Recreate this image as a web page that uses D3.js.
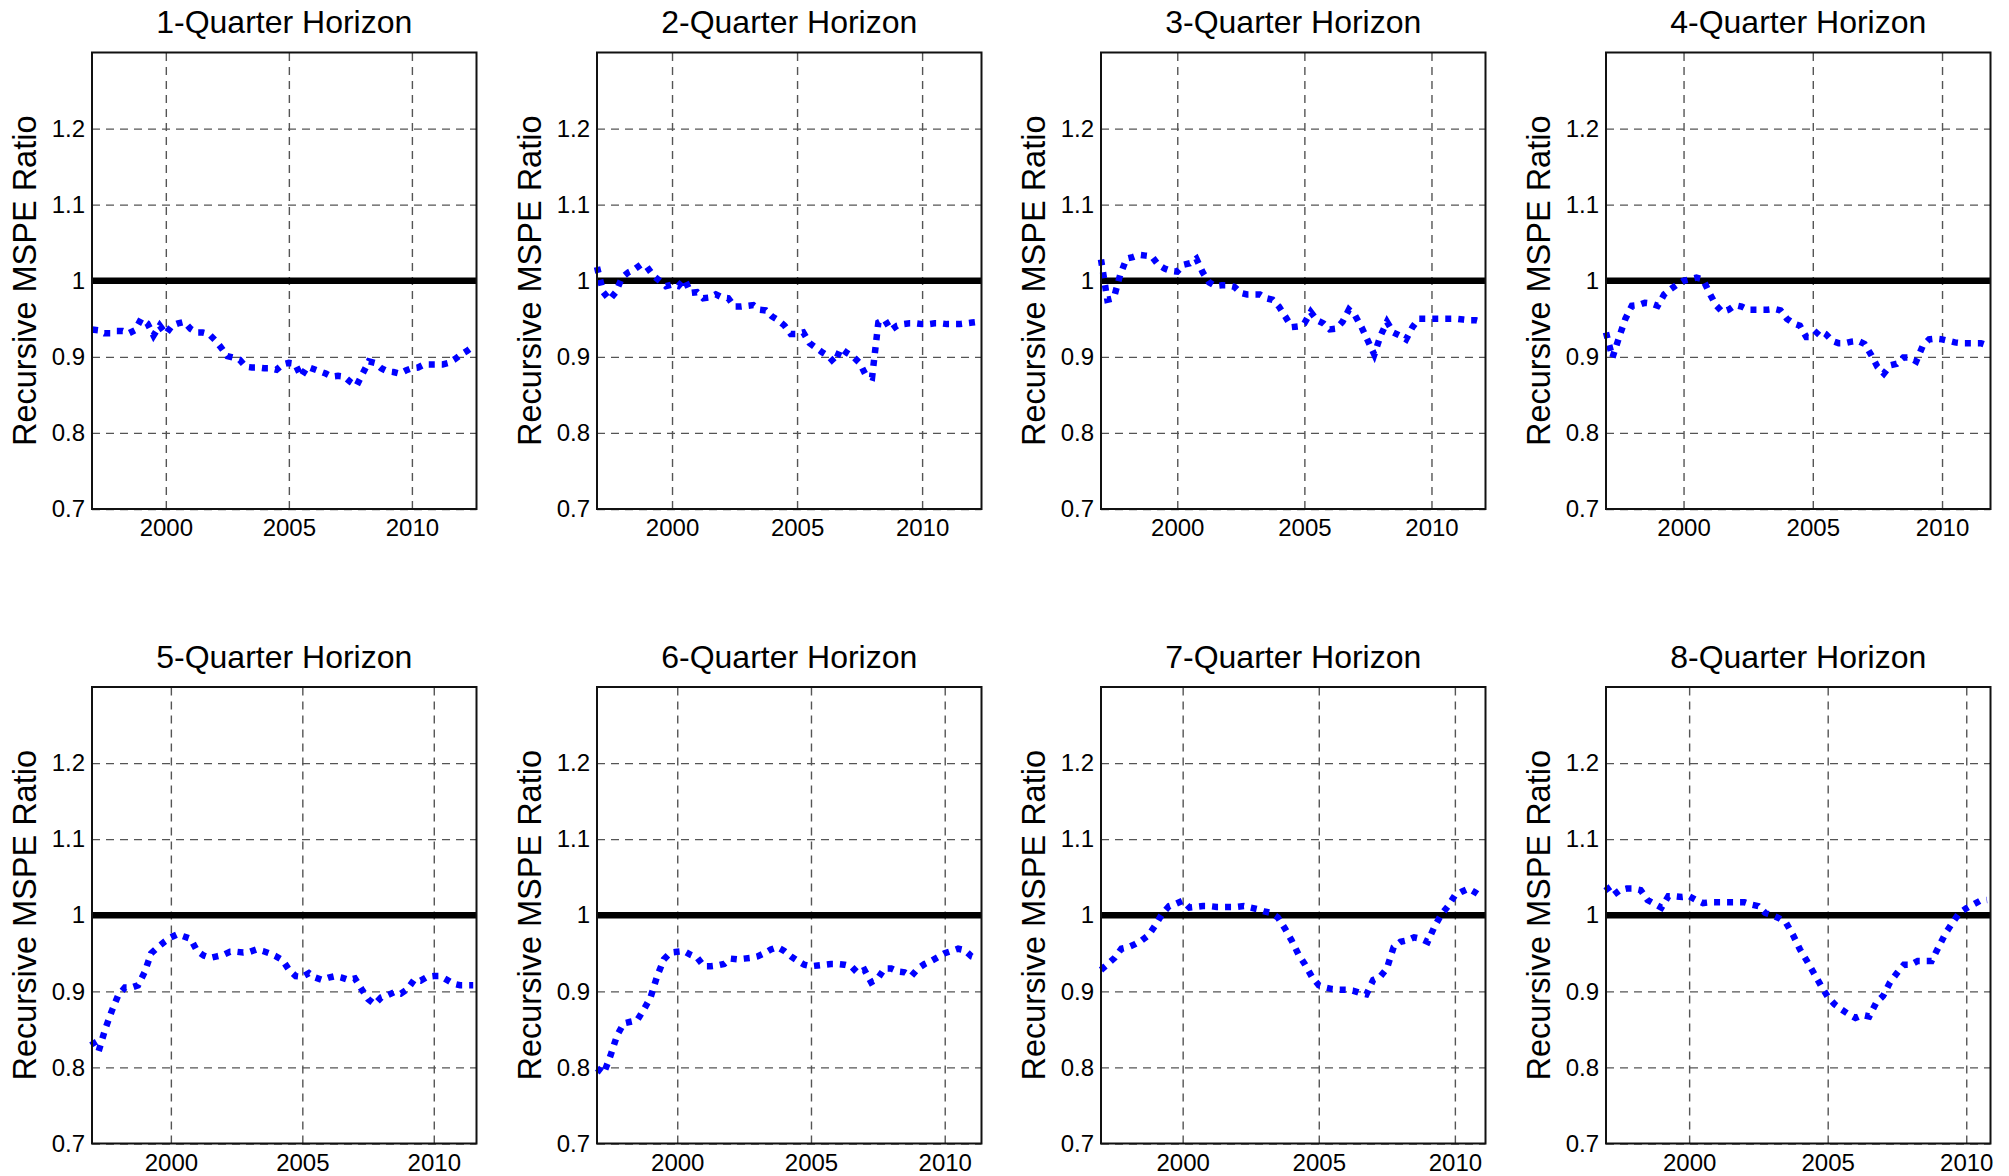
<!DOCTYPE html>
<html>
<head>
<meta charset="utf-8">
<script src="https://cdn.jsdelivr.net/npm/d3@7"></script>
<style>
  body { margin: 0; background: #fff; }
  svg { display: block; font-family: "Liberation Sans", Arial, sans-serif; }
</style>
</head>
<body>
<div id="chart"></div>
<script>
/* Recursive MSPE ratio by forecast horizon, quarterly from 1997Q1 */
const titles = ["1-Quarter Horizon", "2-Quarter Horizon", "3-Quarter Horizon", "4-Quarter Horizon",
                "5-Quarter Horizon", "6-Quarter Horizon", "7-Quarter Horizon", "8-Quarter Horizon"];
const startYear = 1997;
const yLabel = "Recursive MSPE Ratio";
const yTicks = [0.7, 0.8, 0.9, 1.0, 1.1, 1.2];
const xTicks = [2000, 2005, 2010];
const benchmark = 1;

const h1 = [0.936,0.935,0.931,0.931, 0.934,0.934,0.931,0.935, 0.950,0.944,0.928,0.941, 0.930,0.941,0.944,0.946,
            0.937,0.932,0.932,0.930, 0.922,0.912,0.901,0.899, 0.896,0.887,0.886,0.886, 0.885,0.885,0.883,0.890,
            0.892,0.891,0.874,0.887, 0.884,0.881,0.878,0.874, 0.875,0.874,0.867,0.862, 0.878,0.894,0.892,0.885,
            0.881,0.880,0.878,0.882, 0.885,0.886,0.890,0.890, 0.890,0.890,0.892,0.897, 0.903,0.908,0.914];
const h2 = [1.018,0.985,0.975,0.985, 1.004,1.011,1.015,1.021, 1.018,1.007,1.000,0.993, 0.995,0.993,1.002,0.984,
            0.985,0.977,0.978,0.982, 0.978,0.977,0.966,0.966, 0.967,0.968,0.962,0.961, 0.953,0.948,0.941,0.930,
            0.930,0.932,0.918,0.912, 0.906,0.901,0.892,0.911, 0.905,0.900,0.892,0.876, 0.873,0.945,0.949,0.935,
            0.941,0.943,0.944,0.944, 0.943,0.943,0.944,0.944, 0.943,0.943,0.943,0.944, 0.945,0.946];
const h3 = [1.028,0.975,0.977,1.007, 1.029,1.031,1.034,1.033, 1.032,1.021,1.016,1.013, 1.012,1.021,1.023,1.029,
            1.011,0.998,0.993,0.994, 0.994,0.992,0.984,0.982, 0.982,0.982,0.977,0.975, 0.966,0.953,0.939,0.940,
            0.944,0.959,0.948,0.944, 0.936,0.937,0.946,0.962, 0.954,0.939,0.921,0.903, 0.928,0.946,0.932,0.928,
            0.923,0.939,0.950,0.950, 0.950,0.950,0.950,0.950, 0.950,0.949,0.948,0.948, 0.946];
const h4 = [0.932,0.899,0.925,0.950, 0.967,0.968,0.971,0.970, 0.967,0.982,0.989,0.995, 1.000,1.002,1.004,1.002,
            0.984,0.968,0.959,0.962, 0.968,0.966,0.962,0.962, 0.962,0.962,0.963,0.961, 0.950,0.944,0.941,0.926,
            0.926,0.935,0.930,0.921, 0.918,0.918,0.920,0.921, 0.917,0.903,0.887,0.878, 0.889,0.891,0.899,0.899,
            0.894,0.914,0.923,0.924, 0.923,0.921,0.919,0.918, 0.918,0.918,0.918,0.915];
const h5 = [0.835,0.821,0.850,0.874, 0.895,0.905,0.905,0.908, 0.925,0.950,0.958,0.965, 0.971,0.975,0.972,0.969,
            0.953,0.947,0.944,0.946, 0.948,0.952,0.952,0.951, 0.952,0.955,0.953,0.950, 0.946,0.941,0.928,0.920,
            0.919,0.924,0.918,0.915, 0.918,0.920,0.918,0.915, 0.917,0.903,0.890,0.883, 0.892,0.895,0.899,0.897,
            0.903,0.915,0.914,0.919, 0.920,0.920,0.915,0.910, 0.908,0.908,0.908];
const h6 = [0.799,0.792,0.815,0.842, 0.858,0.860,0.862,0.876, 0.892,0.920,0.942,0.951, 0.952,0.953,0.948,0.944,
            0.933,0.933,0.934,0.936, 0.943,0.942,0.943,0.944, 0.946,0.950,0.955,0.958, 0.953,0.946,0.940,0.935,
            0.933,0.934,0.935,0.936, 0.936,0.935,0.933,0.924, 0.928,0.912,0.917,0.930, 0.930,0.926,0.925,0.920,
            0.930,0.936,0.940,0.945, 0.950,0.953,0.956,0.954, 0.946,0.943];
const h7 = [0.928,0.936,0.944,0.956, 0.958,0.962,0.967,0.974, 0.987,1.002,1.012,1.015, 1.019,1.010,1.011,1.012,
            1.012,1.011,1.011,1.011, 1.011,1.012,1.010,1.008, 1.005,1.003,0.997,0.983, 0.967,0.949,0.935,0.919,
            0.908,0.905,0.903,0.902, 0.902,0.901,0.898,0.896, 0.915,0.919,0.930,0.958, 0.965,0.967,0.971,0.969,
            0.965,0.985,1.001,1.012, 1.026,1.031,1.035,1.030, 1.024];
const h8 = [1.038,1.026,1.033,1.035, 1.035,1.033,1.020,1.015, 1.010,1.025,1.025,1.024, 1.025,1.020,1.016,1.017,
            1.017,1.017,1.017,1.017, 1.017,1.014,1.012,1.003, 1.000,0.996,0.990,0.974, 0.955,0.940,0.924,0.908,
            0.893,0.883,0.876,0.870, 0.865,0.869,0.867,0.885, 0.894,0.912,0.924,0.935, 0.935,0.940,0.940,0.940,
            0.958,0.976,0.990,1.003, 1.009,1.014,1.019,1.020];

const series = [h1, h2, h3, h4, h5, h6, h7, h8];

const W = 2009, H = 1176;
const colLeft = [92, 597, 1101, 1606];
const rowTop = [52.5, 687];
const pw = 384.5, ph = 456.5;

const svg = d3.select("#chart").append("svg")
  .attr("width", W).attr("height", H)
  .attr("viewBox", `0 0 ${W} ${H}`);

const fmtY = d => String(+d.toFixed(1));

series.forEach((vals, k) => {
  const col = k % 4, row = Math.floor(k / 4);
  const data = vals.map((v, i) => ({ t: startYear + i / 4, v }));
  const xEnd = startYear + (vals.length - 1) / 4 + 0.125;

  const x = d3.scaleLinear().domain([startYear, xEnd]).range([0, pw]);
  const y = d3.scaleLinear().domain([0.7, 1.3]).range([ph, 0]);

  const g = svg.append("g").attr("transform", `translate(${colLeft[col]},${rowTop[row]})`);

  /* Grid */
  g.append("g").attr("class", "grid")
    .call(d3.axisLeft(y).tickValues(yTicks).tickSize(-pw).tickFormat(""))
    .call(s => s.select(".domain").remove())
    .selectAll("line").attr("stroke", "#555").attr("stroke-width", 1.4).attr("stroke-dasharray", "8,6");
  g.append("g").attr("class", "grid").attr("transform", `translate(0,${ph})`)
    .call(d3.axisBottom(x).tickValues(xTicks).tickSize(-ph).tickFormat(""))
    .call(s => s.select(".domain").remove())
    .selectAll("line").attr("stroke", "#555").attr("stroke-width", 1.4).attr("stroke-dasharray", "8,6");

  /* Tick labels */
  g.append("g")
    .call(d3.axisLeft(y).tickValues(yTicks).tickSize(0).tickPadding(7).tickFormat(fmtY))
    .call(s => s.select(".domain").remove())
    .selectAll("text").attr("font-size", "24px").attr("fill", "#000")
    .attr("font-family", "Liberation Sans, Arial, sans-serif");
  g.append("g").attr("transform", `translate(0,${ph})`)
    .call(d3.axisBottom(x).tickValues(xTicks).tickSize(0).tickPadding(10).tickFormat(d3.format("d")))
    .call(s => s.select(".domain").remove())
    .selectAll("text").attr("font-size", "24px").attr("fill", "#000")
    .attr("font-family", "Liberation Sans, Arial, sans-serif");

  /* Benchmark at 1 */
  g.append("line")
    .attr("x1", 0).attr("x2", pw).attr("y1", y(benchmark)).attr("y2", y(benchmark))
    .attr("stroke", "#000").attr("stroke-width", 6.5);

  /* Ratio series */
  g.append("path").datum(data)
    .attr("fill", "none").attr("stroke", "#0000ff").attr("stroke-width", 6.5)
    .attr("stroke-dasharray", "6,7").attr("stroke-linejoin", "miter")
    .attr("d", d3.line().x(d => x(d.t)).y(d => y(d.v)));

  /* Box */
  g.append("rect").attr("x", 0).attr("y", 0).attr("width", pw).attr("height", ph)
    .attr("fill", "none").attr("stroke", "#111").attr("stroke-width", 2);

  /* Title and y label */
  g.append("text").attr("x", pw / 2).attr("y", -19.5)
    .attr("text-anchor", "middle").attr("font-size", "32px").attr("fill", "#000")
    .text(titles[k]);
  g.append("text")
    .attr("transform", `translate(-56,${ph / 2}) rotate(-90)`)
    .attr("text-anchor", "middle").attr("font-size", "32.5px").attr("fill", "#000")
    .text(yLabel);
});
</script>
</body>
</html>
